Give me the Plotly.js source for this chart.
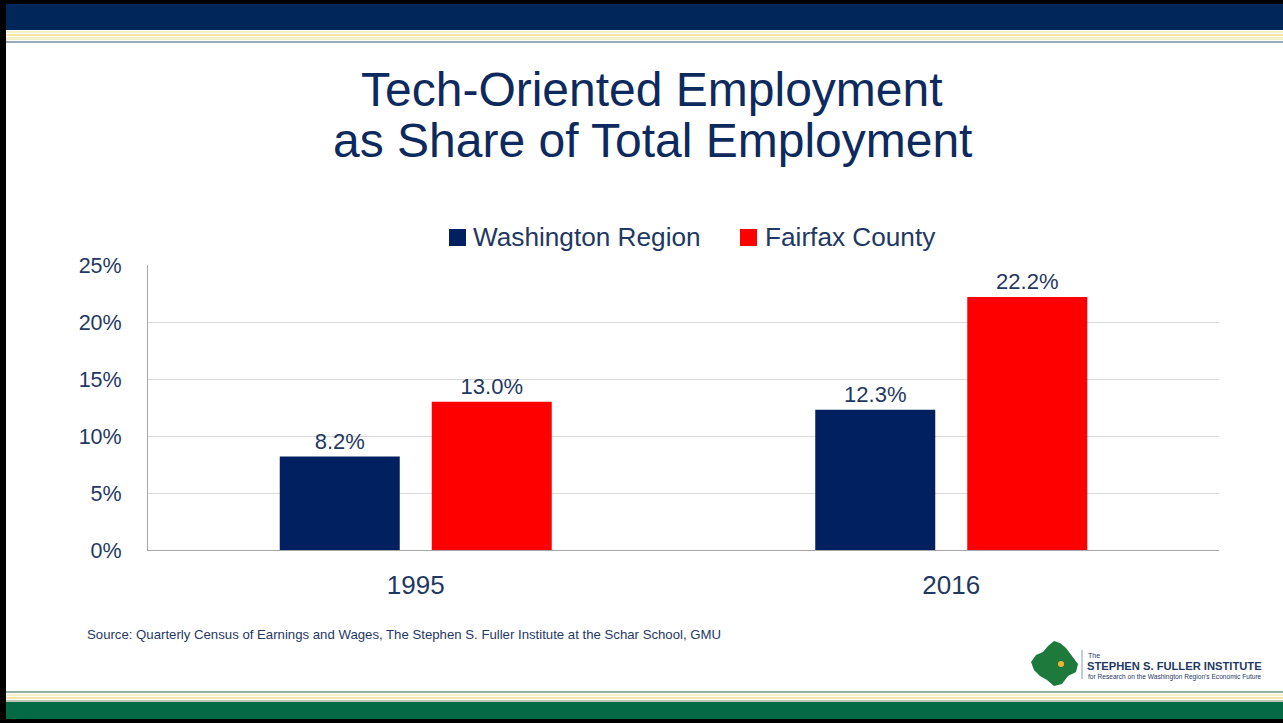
<!DOCTYPE html>
<html><head><meta charset="utf-8">
<script src="https://cdn.plot.ly/plotly-3.0.1.min.js"></script>
<style>html,body{margin:0;padding:0;background:#fff;}#chart{width:1283px;height:723px;}</style>
</head><body><div id="chart"></div>
<script>
const categories = ["1995", "2016"];
const seriesNames = ["Washington Region", "Fairfax County"];
const washington = [8.2, 12.3];
const fairfax = [13.0, 22.2];
const yTicks = [0, 5, 10, 15, 20, 25];
const yTickLabels = ["0%", "5%", "10%", "15%", "20%", "25%"];

const NAVY = "#002060", RED = "#ff0000", TXT = "#1f3864";
const FONT = "Liberation Sans, Arial";
const W = 1283, H = 723, L = 148, R = 1219, T = 265, B = 550;
const px = x => (x - L) / (R - L);
const py = y => (B - y) / (B - T);
function rect(x0, y0, x1, y1, color, layer) {
  return {type: "rect", xref: "paper", yref: "paper", x0: px(x0), x1: px(x1), y0: py(y1), y1: py(y0),
    fillcolor: color, line: {width: 0}, layer: layer || "below"};
}
const fmt = v => v.toFixed(1) + "%";
const colors = [NAVY, RED];

const traces = [
  {type: "bar", name: seriesNames[0], x: categories, y: washington, marker: {color: colors[0]},
   text: washington.map(fmt), textposition: "outside", cliponaxis: false, showlegend: false,
   textfont: {size: 22, color: TXT, family: FONT}},
  {type: "bar", name: seriesNames[1], x: categories, y: fairfax, marker: {color: colors[1]},
   text: fairfax.map(fmt), textposition: "outside", cliponaxis: false, showlegend: false,
   textfont: {size: 22, color: TXT, family: FONT}}
];

const shapes = [
  rect(0, 0, W, 4, "#000"),
  rect(0, 4, W, 30, "#00265a"),
  rect(0, 31, W, 33, "#f3efc8"),
  rect(0, 34, W, 36, "#f5e6a8"),
  rect(0, 37, W, 40, "#f3efc8"),
  rect(0, 41, W, 43, "#9aa9b8"),
  rect(0, 691, W, 693, "#8fb1a4"),
  rect(0, 694, W, 696, "#f3efc8"),
  rect(0, 697, W, 699, "#f5e6a8"),
  rect(0, 700, W, 702, "#b9c9b0"),
  rect(0, 702, W, 719, "#046a45"),
  rect(0, 719, W, H, "#000"),
  rect(0, 0, 6, H, "#000"),
  // legend swatches
  rect(449, 229, 466, 246, colors[0], "above"),
  rect(740, 229, 757, 246, colors[1], "above"),
  // logo blob
  {type: "path", xref: "paper", yref: "paper",
   path: `M ${px(1031)} ${py(662)} L ${px(1036)} ${py(655)} L ${px(1043)} ${py(652)} L ${px(1048)} ${py(646)} L ${px(1054)} ${py(641)} L ${px(1060)} ${py(643)} L ${px(1066)} ${py(648)} L ${px(1072)} ${py(656)} L ${px(1078)} ${py(664)} L ${px(1076)} ${py(672)} L ${px(1068)} ${py(676)} L ${px(1062)} ${py(684)} L ${px(1054)} ${py(686)} L ${px(1047)} ${py(680)} L ${px(1040)} ${py(676)} L ${px(1034)} ${py(670)} Z`,
   fillcolor: "#1d7a3c", line: {width: 0}},
  {type: "circle", xref: "paper", yref: "paper", x0: px(1058), x1: px(1064), y0: py(667), y1: py(661),
   fillcolor: "#f2b233", line: {width: 0}},
  {type: "line", xref: "paper", yref: "paper", x0: px(1082), x1: px(1082), y0: py(650), y1: py(679),
   line: {color: "#8a9bb0", width: 1}}
];

const annotations = [
  {xref: "paper", yref: "paper", x: px(652), y: py(89), xanchor: "center", yanchor: "middle",
   text: "Tech-Oriented Employment", showarrow: false, font: {size: 48, color: "#0d2a5e", family: FONT}},
  {xref: "paper", yref: "paper", x: px(652), y: py(140), xanchor: "center", yanchor: "middle",
   text: "as Share of Total Employment", showarrow: false, font: {size: 48, color: "#0d2a5e", family: FONT}},
  {xref: "paper", yref: "paper", x: px(471), y: py(237), xanchor: "left", yanchor: "middle",
   text: seriesNames[0], showarrow: false, font: {size: 26.2, color: TXT, family: FONT}},
  {xref: "paper", yref: "paper", x: px(763), y: py(237), xanchor: "left", yanchor: "middle",
   text: seriesNames[1], showarrow: false, font: {size: 26.2, color: TXT, family: FONT}},
  {xref: "paper", yref: "paper", x: px(85), y: py(634), xanchor: "left", yanchor: "middle",
   text: "Source: Quarterly Census of Earnings and Wages, The Stephen S. Fuller Institute at the Schar School, GMU",
   showarrow: false, font: {size: 13.2, color: TXT, family: FONT}},
  {xref: "paper", yref: "paper", x: px(1086), y: py(655), xanchor: "left", yanchor: "middle",
   text: "The", showarrow: false, font: {size: 7, color: "#1f3864", family: FONT}},
  {xref: "paper", yref: "paper", x: px(1085), y: py(666), xanchor: "left", yanchor: "middle",
   text: "<b>STEPHEN S. FULLER INSTITUTE</b>", showarrow: false,
   font: {size: 11.2, color: "#1f3864", family: FONT}},
  {xref: "paper", yref: "paper", x: px(1086), y: py(677), xanchor: "left", yanchor: "middle",
   text: "for Research on the Washington Region's Economic Future", showarrow: false,
   font: {size: 6.6, color: "#1f3864", family: FONT}}
];

const layout = {
  width: W, height: H,
  margin: {l: L, r: W - R, t: T, b: H - B, pad: 0},
  paper_bgcolor: "#fff", plot_bgcolor: "#fff",
  barmode: "group", bargap: 0.4323, bargroupgap: 0.2105,
  showlegend: false,
  xaxis: {type: "category", showgrid: false, showline: true, linecolor: "#a6a6a6", linewidth: 1,
    ticks: "", tickfont: {size: 26, color: TXT, family: FONT}, ticklabelstandoff: 12},
  yaxis: {range: [0, 25], tickvals: yTicks, ticktext: yTickLabels, showgrid: true, gridcolor: "#d9d9d9",
    gridwidth: 1, showline: true, linecolor: "#a6a6a6", linewidth: 1, zeroline: false, ticks: "",
    tickfont: {size: 21.5, color: TXT, family: FONT}, ticklabelstandoff: 21},
  shapes: shapes, annotations: annotations
};

Plotly.newPlot("chart", traces, layout, {displayModeBar: false, staticPlot: true});
</script></body></html>
